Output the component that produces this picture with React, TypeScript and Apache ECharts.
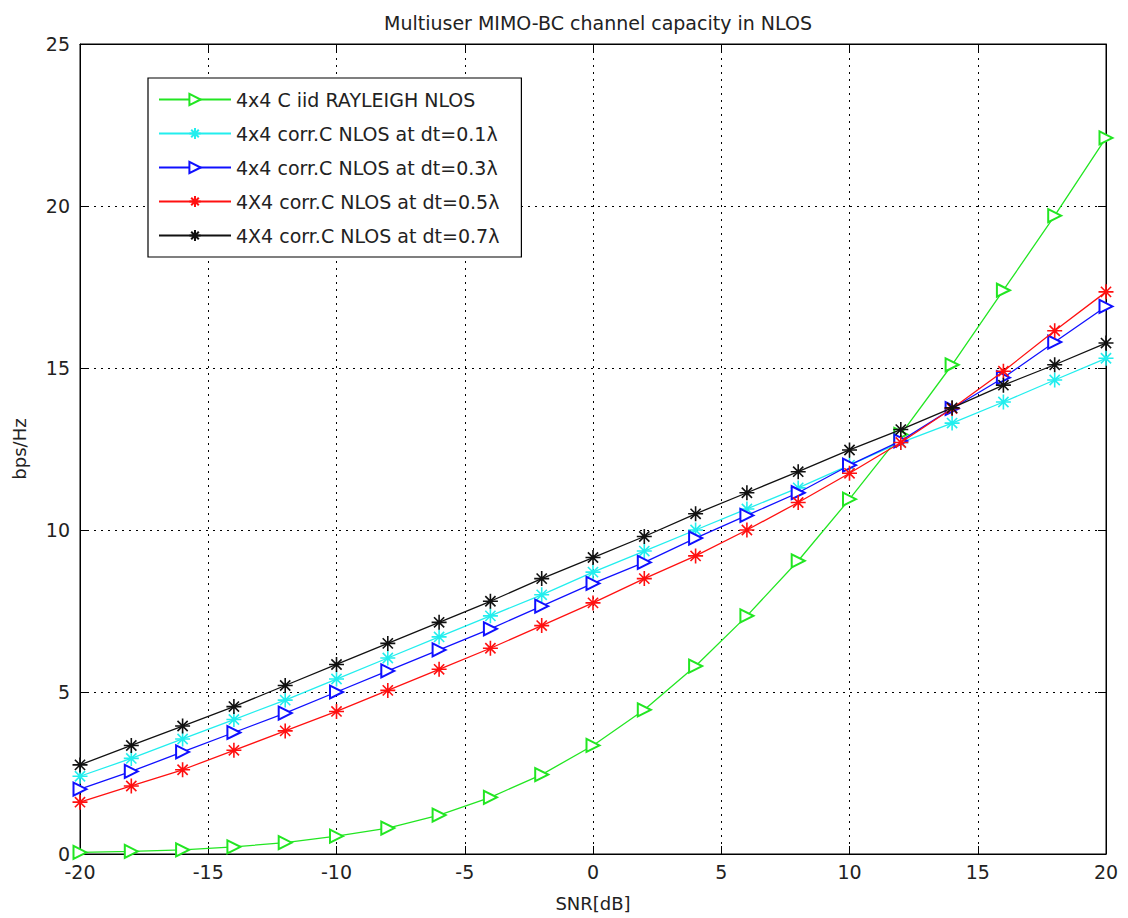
import React, { useEffect, useRef } from "react";
import * as echarts from "echarts";

const snr = [-20, -18, -16, -14, -12, -10, -8, -6, -4, -2, 0, 2, 4, 6, 8, 10, 12, 14, 16, 18, 20];
const iidRayleigh = [0.05, 0.08, 0.13, 0.22, 0.35, 0.55, 0.8, 1.2, 1.75, 2.45, 3.35, 4.45, 5.8, 7.35, 9.05, 10.95, 12.95, 15.1, 17.4, 19.7, 22.1];
const corr01 = [2.4, 2.95, 3.55, 4.15, 4.75, 5.4, 6.05, 6.7, 7.35, 8.0, 8.7, 9.35, 10.0, 10.65, 11.3, 12.0, 12.7, 13.3, 13.95, 14.63, 15.3];
const corr03 = [2.0, 2.55, 3.15, 3.75, 4.35, 5.0, 5.65, 6.3, 6.95, 7.65, 8.35, 9.0, 9.75, 10.45, 11.15, 12.0, 12.75, 13.75, 14.7, 15.8, 16.9];
const corr05 = [1.6, 2.1, 2.6, 3.2, 3.8, 4.4, 5.05, 5.7, 6.35, 7.05, 7.75, 8.5, 9.2, 10.0, 10.85, 11.75, 12.7, 13.75, 14.9, 16.15, 17.35];
const corr07 = [2.75, 3.35, 3.95, 4.55, 5.2, 5.85, 6.5, 7.15, 7.8, 8.5, 9.15, 9.8, 10.5, 11.15, 11.8, 12.47, 13.1, 13.77, 14.47, 15.1, 15.77];

const names = [
  "4x4 C iid RAYLEIGH NLOS",
  "4x4 corr.C NLOS at dt=0.1λ",
  "4x4 corr.C NLOS at dt=0.3λ",
  "4X4 corr.C NLOS at dt=0.5λ",
  "4X4 corr.C NLOS at dt=0.7λ",
];
const colors = ["#22e622", "#22eeee", "#1010ff", "#ff1010", "#111111"];
const seriesData = [iidRayleigh, corr01, corr03, corr05, corr07];
const markers = ["tri", "star", "tri", "star", "star"];

const STAR = "path://M5,0L5,10M0,5L10,5M1.6,1.6L8.4,8.4M1.6,8.4L8.4,1.6";
const FONT = "DejaVu Sans";

export default function App() {
  const ref = useRef<HTMLDivElement>(null);
  useEffect(() => {
    if (!ref.current) return;
    const chart = echarts.init(ref.current, undefined, { renderer: "svg" });
    const series = seriesData.map((vals, i) => {
      const isTri = markers[i] === "tri";
      return {
        name: names[i],
        type: "line",
        xAxisIndex: 0,
        yAxisIndex: 0,
        data: snr.map((x, j) => [x, vals[j]]),
        symbol: isTri ? "emptyTriangle" : STAR,
        symbolRotate: isTri ? -90 : 0,
        symbolSize: isTri ? 13 : 15,
        showAllSymbol: true,
        lineStyle: { color: colors[i], width: 1.3 },
        itemStyle: {
          color: colors[i],
          borderColor: colors[i],
          borderWidth: isTri ? 1.3 : 1.6,
        },
        emphasis: { disabled: true },
        z: 3 + i,
      };
    });
    const axisLine = { show: true, onZero: false, lineStyle: { color: "#000", width: 1 } };
    const tick = { show: true, inside: true, length: 8, lineStyle: { color: "#000" } };
    const option = {
      animation: false,
      backgroundColor: "#ffffff",
      textStyle: { fontFamily: FONT },
      title: {
        text: "Multiuser MIMO-BC channel capacity in NLOS",
        left: 593,
        textAlign: "center",
        top: 8,
        textStyle: { fontFamily: FONT, fontSize: 19, fontWeight: "normal", color: "#222" },
      },
      grid: {
        left: 80,
        right: 22,
        top: 44,
        bottom: 64,
        show: true,
        borderColor: "#000",
        borderWidth: 1,
        backgroundColor: "#fff",
      },
      legend: {
        orient: "vertical",
        left: 148,
        top: 78,
        backgroundColor: "#fff",
        borderColor: "#000",
        borderWidth: 1.2,
        padding: [12, 22, 12, 10],
        itemWidth: 72,
        itemHeight: 14,
        itemGap: 15,
        data: names,
        textStyle: { fontFamily: FONT, fontSize: 19, color: "#222" },
      },
      xAxis: [
        {
          type: "value",
          min: -20,
          max: 20,
          interval: 5,
          name: "SNR[dB]",
          nameLocation: "middle",
          nameGap: 40,
          nameTextStyle: { fontFamily: FONT, fontSize: 18, color: "#222" },
          axisLine,
          axisTick: tick,
          axisLabel: { fontFamily: FONT, fontSize: 19, color: "#222", margin: 8 },
          splitLine: { show: true, lineStyle: { color: "#000", type: [2, 5], width: 1 } },
        },
        {
          type: "value",
          position: "top",
          min: -20,
          max: 20,
          interval: 5,
          axisLine,
          axisTick: tick,
          axisLabel: { show: false },
          splitLine: { show: false },
        },
      ],
      yAxis: [
        {
          type: "value",
          min: 0,
          max: 25,
          interval: 5,
          name: "bps/Hz",
          nameLocation: "middle",
          nameGap: 52,
          nameRotate: 90,
          nameTextStyle: { fontFamily: FONT, fontSize: 18, color: "#222" },
          axisLine,
          axisTick: tick,
          axisLabel: { fontFamily: FONT, fontSize: 19, color: "#222", margin: 10 },
          splitLine: { show: true, lineStyle: { color: "#000", type: [2, 5], width: 1 } },
        },
        {
          type: "value",
          position: "right",
          min: 0,
          max: 25,
          interval: 5,
          axisLine,
          axisTick: tick,
          axisLabel: { show: false },
          splitLine: { show: false },
        },
      ],
      series,
    };
    chart.setOption(option as any);
    return () => chart.dispose();
  }, []);
  return <div ref={ref} style={{ width: 1128, height: 918, position: "absolute", left: 0, top: 0 }} />;
}
